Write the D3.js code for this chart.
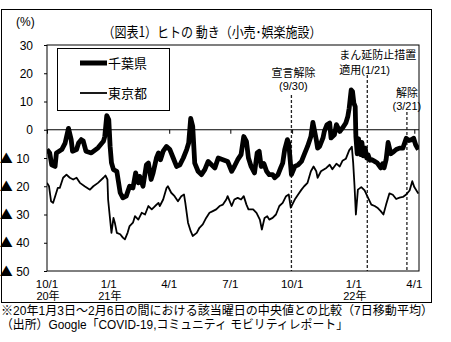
<!DOCTYPE html>
<html>
<head>
<meta charset="utf-8">
<script src="https://cdn.jsdelivr.net/npm/d3@7"></script>
<style>
  body { margin: 0; background: #fff; }
  svg { display: block; }
  text { font-family: "Noto Sans CJK JP", "Noto Sans", sans-serif; fill: #000; }
  text.num { font-family: "Liberation Sans", "Noto Sans CJK JP", sans-serif; }
  tspan.tri { font-family: "Noto Sans CJK JP", sans-serif; }
</style>
</head>
<body>
<svg id="chart" width="451" height="342"></svg>
<script>
// 千葉県 (retail & recreation mobility, % vs. baseline)
const chibaDates = [
  "2020-10-01","2020-10-05","2020-10-08","2020-10-13","2020-10-15","2020-10-23","2020-10-28","2020-11-02",
  "2020-11-06","2020-11-08","2020-11-14","2020-11-17","2020-11-21","2020-11-24","2020-11-28","2020-12-06",
  "2020-12-16","2020-12-24","2020-12-26","2020-12-29","2021-01-01","2021-01-03","2021-01-05","2021-01-08",
  "2021-01-13","2021-01-18","2021-01-22","2021-01-27","2021-02-01","2021-02-06","2021-02-10","2021-02-14",
  "2021-02-16","2021-02-21","2021-02-26","2021-03-01","2021-03-05","2021-03-08","2021-03-13","2021-03-16",
  "2021-03-19","2021-03-23","2021-03-28","2021-04-02","2021-04-07","2021-04-12","2021-04-17","2021-04-22",
  "2021-04-27","2021-04-30","2021-05-03","2021-05-06","2021-05-09","2021-05-14","2021-05-19","2021-05-24",
  "2021-05-29","2021-06-03","2021-06-08","2021-06-13","2021-06-20","2021-06-27","2021-07-03","2021-07-07",
  "2021-07-12","2021-07-17","2021-07-21","2021-07-25","2021-07-28","2021-08-01","2021-08-06","2021-08-10",
  "2021-08-13","2021-08-16","2021-08-20","2021-08-24","2021-08-28","2021-09-02","2021-09-05","2021-09-10",
  "2021-09-14","2021-09-17","2021-09-20","2021-09-24","2021-09-26","2021-09-30","2021-10-05","2021-10-10",
  "2021-10-15","2021-10-19","2021-10-24","2021-10-29","2021-11-01","2021-11-06","2021-11-08","2021-11-11",
  "2021-11-16","2021-11-18","2021-11-22","2021-11-26","2021-11-28","2021-12-03","2021-12-06","2021-12-11",
  "2021-12-15","2021-12-20","2021-12-23","2021-12-25","2021-12-28","2021-12-30","2022-01-01","2022-01-03",
  "2022-01-04","2022-01-06","2022-01-08","2022-01-11","2022-01-13","2022-01-15","2022-01-18","2022-01-20",
  "2022-01-22","2022-01-25","2022-01-28","2022-02-01","2022-02-05","2022-02-10","2022-02-13","2022-02-15",
  "2022-02-18","2022-02-21","2022-02-25","2022-02-28","2022-03-05","2022-03-10","2022-03-15","2022-03-20",
  "2022-03-24","2022-03-28","2022-03-31","2022-04-03","2022-04-07"
];
const chibaValues = [
  -7.0,-8.2,-12.4,-13,-8.2,-7,-4.7,0.5,
  -3.5,-7.6,-7,-4.7,-3.5,-4,-7.6,-8.2,
  -6.4,-4.1,-2.4,5,3.5,-5.9,-11.7,-14.1,
  -14.7,-22.3,-24.1,-23.5,-20,-20.6,-15.3,-18.8,
  -16.5,-20,-12.4,-11.8,-17.6,-15.3,-10,-8.2,
  -10.6,-7.6,-5.9,-7,-10,-13,-12.4,-10,
  -7,-4.7,4,1.2,-11.8,-14.7,-15.9,-14.1,
  -11.2,-12.4,-13.5,-10,-10.6,-11.2,-14.7,-13,
  -10.6,-8.8,-2.4,-4.1,-10,-13,-15.3,-8.2,
  -7.6,-13,-12,-14.7,-15.9,-15.9,-17,-15.9,
  -13.5,-11.8,-7,-3.5,-4.7,-15.9,-13,-12.4,
  -11.2,-8.8,-5.9,-2.4,2.6,-3.5,-6.5,-5.9,
  -2.9,-0.6,1.8,2.4,-2.9,-1.8,1.8,-0.6,
  0.6,2.4,4.7,7.6,14.1,13.5,9.4,8.2,
  -2.4,-8.5,-3.2,-8.8,-4.5,-9.2,-6.5,-10,
  -8.8,-10.8,-10.6,-11.2,-11.8,-13.5,-12,-13.5,
  -10.6,-4.5,-8.5,-8,-7,-6.5,-6.5,-3,
  -3.8,-3.5,-3,-5.3,-7
];

// 東京都
const tokyoDates = [
  "2020-10-01","2020-10-04","2020-10-07","2020-10-10","2020-10-14","2020-10-17","2020-10-20","2020-10-25",
  "2020-10-30","2020-11-04","2020-11-09","2020-11-14","2020-11-19","2020-11-26","2020-12-04","2020-12-09",
  "2020-12-16","2020-12-24","2020-12-27","2020-12-30","2020-12-31","2021-01-03","2021-01-05","2021-01-08",
  "2021-01-10","2021-01-13","2021-01-18","2021-01-22","2021-01-25","2021-01-29","2021-02-01","2021-02-06",
  "2021-02-09","2021-02-14","2021-02-19","2021-02-24","2021-03-01","2021-03-06","2021-03-11","2021-03-16",
  "2021-03-18","2021-03-23","2021-03-28","2021-03-30","2021-04-04","2021-04-09","2021-04-14","2021-04-19",
  "2021-04-23","2021-04-25","2021-04-29","2021-05-03","2021-05-06","2021-05-12","2021-05-16","2021-05-21",
  "2021-05-26","2021-05-31","2021-06-05","2021-06-10","2021-06-15","2021-06-20","2021-06-25","2021-06-27",
  "2021-07-03","2021-07-07","2021-07-12","2021-07-17","2021-07-21","2021-07-25","2021-07-28","2021-08-04",
  "2021-08-09","2021-08-14","2021-08-17","2021-08-21","2021-08-25","2021-08-28","2021-09-02","2021-09-07",
  "2021-09-12","2021-09-17","2021-09-22","2021-09-26","2021-09-29","2021-10-05","2021-10-10","2021-10-15",
  "2021-10-19","2021-10-24","2021-10-29","2021-11-02","2021-11-06","2021-11-08","2021-11-13","2021-11-21",
  "2021-11-26","2021-11-30","2021-12-06","2021-12-11","2021-12-15","2021-12-20","2021-12-25","2021-12-29",
  "2021-12-31","2022-01-02","2022-01-04","2022-01-07","2022-01-12","2022-01-17","2022-01-22","2022-01-27",
  "2022-02-01","2022-02-05","2022-02-10","2022-02-14","2022-02-18","2022-02-23","2022-02-28","2022-03-05",
  "2022-03-10","2022-03-15","2022-03-20","2022-03-25","2022-03-29","2022-04-01","2022-04-07"
];
const tokyoValues = [
  -18.8,-20,-25.3,-25.9,-22.9,-20.6,-20.6,-17,
  -15.9,-17,-17.6,-17,-18.8,-20,-21.2,-20,
  -18.8,-17,-16.2,-17.6,-24.7,-31.8,-36.5,-31.2,
  -32.9,-36.5,-37,-38.2,-38.8,-36.5,-34.1,-32.9,
  -30.6,-31.8,-29.4,-30,-27,-28.2,-27,-25.9,
  -27,-24.7,-20.6,-20,-22.3,-23.5,-25.3,-23.5,
  -22.9,-25.9,-32.9,-35.9,-37.6,-36.5,-34.7,-33.5,
  -31.2,-29.4,-28.8,-28.2,-27,-26.5,-24.7,-23.5,
  -27,-24.7,-24.1,-24.7,-23.5,-26.5,-28.2,-28.2,
  -29.4,-31.8,-35.3,-31.2,-30.6,-31.8,-31.2,-30,
  -27,-25.9,-23.5,-22.9,-27.6,-24.7,-22.9,-21.2,
  -20,-18.8,-14.7,-13,-14.7,-17,-14.7,-13.5,
  -12.4,-14,-12,-13,-11,-10.3,-7.3,-6,
  -11.8,-20,-30,-21.2,-20.3,-21.5,-24,-26.5,
  -27,-27.6,-28.8,-30,-26.5,-22.5,-23,-24.5,
  -24,-23.8,-22.9,-21.5,-18.2,-20.3,-22.6
];

const seriesNames = ["千葉県", "東京都"];
const yTickValues = [30, 20, 10, 0, -10, -20, -30, -40, -50];
const xTickDates = ["2020-10-01","2021-01-01","2021-04-01","2021-07-01","2021-10-01","2022-01-01","2022-04-01"];
const xTickLabels = ["10/1","1/1","4/1","7/1","10/1","1/1","4/1"];
const xYearLabels = ["20年","21年","","","","22年",""];
const eventDates = ["2021-09-30","2022-01-21","2022-03-21"];
const eventLabels = [["宣言解除","(9/30)"], ["まん延防止措置","適用(1/21)"], ["解除","(3/21)"]];

const titleText = "（図表1）ヒトの 動き（小売･娯楽施設）";
const unitText = "(%)";
const noteText = "※20年1月3日～2月6日の間における該当曜日の中央値との比較（7日移動平均）";
const sourceText = "（出所）Google「COVID-19,コミュニティ モビリティレポート」";

const parse = d3.timeParse("%Y-%m-%d");
const svg = d3.select("#chart");

const plot = { left: 47, right: 419, top: 45, bottom: 271 };
const x = d3.scaleTime()
  .domain([parse("2020-10-01"), parse("2022-04-08")])
  .range([plot.left, plot.right]);
const y = d3.scaleLinear().domain([-50, 30]).range([plot.bottom, plot.top]);

// outer frame
svg.append("rect")
  .attr("x", 1.5).attr("y", 9.5).attr("width", 430).attr("height", 293)
  .attr("fill", "#fff").attr("stroke", "#000").attr("stroke-width", 1);

// title & unit
svg.append("text").attr("x", 212).attr("y", 37).attr("text-anchor", "middle")
  .attr("font-size", 14).attr("textLength", 219).attr("lengthAdjust", "spacingAndGlyphs")
  .text(titleText);
svg.append("text").attr("class", "num").attr("x", 16).attr("y", 26).attr("font-size", 12).text(unitText);

// y axis ticks (outward) and labels; negatives are written with ▲
const yAxis = d3.axisLeft(y).tickValues(yTickValues).tickSize(3).tickFormat("");
svg.append("g").attr("transform", `translate(${plot.left},0)`).call(yAxis)
  .call(g => g.select(".domain").remove())
  .selectAll("line").attr("stroke", "#000");

const yLab = svg.append("g");
yTickValues.forEach(v => {
  const yy = y(v) + 4.5;
  const t = yLab.append("text").attr("class", "num").attr("y", yy)
    .attr("text-anchor", "end").attr("font-size", 12);
  if (v < 0) {
    t.attr("x", 29.5);
    t.append("tspan").attr("class", "tri").attr("font-size", 13).text("▲");
    t.append("tspan").text(" " + Math.abs(v));
  } else {
    t.attr("x", 33).text(String(v));
  }
});

// zero line with category ticks
svg.append("line").attr("x1", plot.left).attr("x2", plot.right)
  .attr("y1", y(0)).attr("y2", y(0)).attr("stroke", "#000").attr("stroke-width", 1);
const xAxis = d3.axisBottom(x).tickValues(xTickDates.map(parse)).tickSize(4).tickFormat("");
svg.append("g").attr("transform", `translate(0,${y(0)})`).call(xAxis)
  .call(g => g.select(".domain").remove())
  .selectAll("line").attr("stroke", "#000");

// x labels below plot (date, then year on a second line)
const xLab = svg.append("g");
xTickDates.forEach((d, i) => {
  const xx = x(parse(d));
  xLab.append("text").attr("class", "num").attr("x", xx).attr("y", 288)
    .attr("text-anchor", "middle").attr("font-size", 11.5).text(xTickLabels[i]);
  if (xYearLabels[i]) {
    xLab.append("text").attr("class", "num").attr("x", xx + 1).attr("y", 300.3)
      .attr("text-anchor", "middle").attr("font-size", 11).text(xYearLabels[i]);
  }
});

// event markers
const eventTop = [95, 75, 112];
const eventTextY = [[77, 89.8], [59, 74], [97, 109.8]];
const eventAnchor = ["middle", "start", "middle"];
const eventDx = [2, -28, 0];
eventDates.forEach((d, i) => {
  const xx = x(parse(d));
  svg.append("line").attr("x1", xx).attr("x2", xx)
    .attr("y1", eventTop[i]).attr("y2", plot.bottom)
    .attr("stroke", "#222").attr("stroke-width", 1.3).attr("stroke-dasharray", "3,2");
  eventLabels[i].forEach((s, j) => {
    svg.append("text").attr("class", "num").attr("text-anchor", eventAnchor[i]).attr("font-size", 11)
      .attr("x", xx + eventDx[i]).attr("y", eventTextY[i][j]).text(s);
  });
});

// series
svg.append("defs").append("clipPath").attr("id", "plotClip")
  .append("rect").attr("x", plot.left).attr("y", plot.top)
  .attr("width", plot.right - plot.left).attr("height", plot.bottom - plot.top);

const line = d3.line().x(d => x(d[0])).y(d => y(d[1]));
const tokyo = tokyoDates.map((d, i) => [parse(d), tokyoValues[i]]);
const chiba = chibaDates.map((d, i) => [parse(d), chibaValues[i]]);

const series = svg.append("g").attr("clip-path", "url(#plotClip)");
series.append("path").datum(tokyo).attr("d", line)
  .attr("fill", "none").attr("stroke", "#000").attr("stroke-width", 1.8)
  .attr("stroke-linejoin", "round");
series.append("path").datum(chiba).attr("d", line)
  .attr("fill", "none").attr("stroke", "#000").attr("stroke-width", 4.8)
  .attr("stroke-linejoin", "round");

// legend
const lg = svg.append("g");
lg.append("rect").attr("x", 57.5).attr("y", 48.5).attr("width", 112).attr("height", 62)
  .attr("fill", "#fff").attr("stroke", "#000").attr("stroke-width", 1);
[[63, 5], [93, 1.8]].forEach(([ly, w], i) => {
  lg.append("line").attr("x1", 80).attr("x2", 107).attr("y1", ly).attr("y2", ly)
    .attr("stroke", "#000").attr("stroke-width", w);
  lg.append("text").attr("x", 108).attr("y", ly + 5).attr("font-size", 13).text(seriesNames[i]);
});

// plot border
svg.append("rect").attr("x", plot.left).attr("y", plot.top)
  .attr("width", plot.right - plot.left).attr("height", plot.bottom - plot.top)
  .attr("fill", "none").attr("stroke", "#000").attr("stroke-width", 1);

// notes
svg.append("text").attr("class", "num").attr("x", 1).attr("y", 314.5).attr("font-size", 12.5)
  .attr("textLength", 432).attr("lengthAdjust", "spacingAndGlyphs").text(noteText);
svg.append("text").attr("class", "num").attr("x", 1).attr("y", 329).attr("font-size", 12.5)
  .attr("textLength", 347).attr("lengthAdjust", "spacingAndGlyphs").text(sourceText);
</script>
</body>
</html>
